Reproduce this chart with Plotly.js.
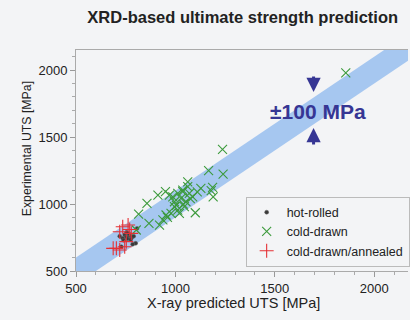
<!DOCTYPE html>
<html>
<head>
<meta charset="utf-8">
<script src="https://cdn.plot.ly/plotly-3.0.1.min.js"></script>
<style>html,body{margin:0;padding:0;background:#f3f4f6;}#chart{width:410px;height:320px;}</style>
</head>
<body>
<div id="chart"></div>
<script>
// ---- data (MPa) ----
const hotRolledX = [720, 735, 745, 753, 760, 770, 780, 790, 800, 807, 728, 740, 765, 775, 755, 785];
const hotRolledY = [760, 745, 770, 756, 740, 765, 750, 760, 707, 818, 681, 730, 780, 735, 790, 700];

const coldDrawnX = [1857, 1237, 1167, 1240, 1187, 1190, 1180, 1062, 1128, 1037, 970, 912, 950, 857, 815, 867, 920, 937, 978, 1012, 995, 1028, 1053, 1070, 1087, 1100, 1045, 1020, 1037, 1012, 987, 953, 803, 995, 1062, 1040, 1075, 1005, 960, 1110];
const coldDrawnY = [1980, 1408, 1249, 1224, 1125, 1054, 1100, 1166, 1117, 1092, 1067, 1067, 1092, 1005, 925, 856, 843, 881, 930, 955, 1017, 1042, 1017, 1080, 1054, 935, 980, 930, 1104, 1080, 1054, 918, 806, 980, 1130, 1000, 1040, 990, 900, 1090];

const annealedX = [762, 720, 703, 745, 720, 778, 687, 753, 735, 770];
const annealedY = [843, 793, 669, 681, 657, 781, 669, 719, 830, 810];

const bandHalfWidth = 100;          // ±100 MPa
const bandSpan = [400, 2300];       // x extent of the band line y = x

const xTickVals = [500, 1000, 1500, 2000];
const yTickVals = [500, 1000, 1500, 2000];

// ---- band polygon built from y = x ± bandHalfWidth ----
const bandX = [bandSpan[0], bandSpan[1], bandSpan[1], bandSpan[0]];
const bandY = [bandSpan[0] - bandHalfWidth, bandSpan[1] - bandHalfWidth,
               bandSpan[1] + bandHalfWidth, bandSpan[0] + bandHalfWidth];

const font = 'Liberation Sans, Arial, sans-serif';

const traces = [
  {x: bandX, y: bandY, type: 'scatter', mode: 'lines', fill: 'toself',
   fillcolor: '#a6c7f0', line: {width: 0}, hoverinfo: 'skip', showlegend: false},
  {x: hotRolledX, y: hotRolledY, type: 'scatter', mode: 'markers', name: 'hot-rolled',
   marker: {symbol: 'circle', size: 4, color: '#3a3a3a', line: {width: 0.5, color: '#666'}}},
  {x: coldDrawnX, y: coldDrawnY, type: 'scatter', mode: 'markers', name: 'cold-drawn',
   marker: {symbol: 'x-thin-open', size: 9, color: '#3c9a3c', line: {width: 1.1, color: '#3c9a3c'}}},
  {x: annealedX, y: annealedY, type: 'scatter', mode: 'markers', name: 'cold-drawn/annealed',
   marker: {symbol: 'cross-thin-open', size: 10, color: '#e53035', line: {width: 1.1, color: '#e53035'}}}
];

const arrowColor = '#363694';
const layout = {
  width: 410, height: 320,
  margin: {l: 76, r: 0, t: 50, b: 49},
  paper_bgcolor: '#f3f4f6', plot_bgcolor: '#f3f4f6',
  font: {family: font, size: 13, color: '#222'},
  title: {text: '<b>XRD-based ultimate strength prediction</b>', font: {family: font, size: 16.5, color: '#222'},
          x: 0.592, xanchor: 'center', y: 0.947, yanchor: 'middle'},
  xaxis: {range: [500, 2170], tickvals: xTickVals, ticks: 'outside', ticklen: 5, tickcolor: '#999',
          showline: true, linecolor: '#aaa', linewidth: 1, mirror: true, showgrid: false, zeroline: false,
          minor: {dtick: 100, ticks: 'outside', ticklen: 3, tickcolor: '#aaa'},
          tickfont: {size: 13, color: '#222'}},
  yaxis: {range: [500, 2150], tickvals: yTickVals, ticks: 'outside', ticklen: 5, tickcolor: '#999',
          showline: true, linecolor: '#aaa', linewidth: 1, showgrid: false, zeroline: false,
          minor: {dtick: 100, ticks: 'outside', ticklen: 3, tickcolor: '#aaa'},
          tickfont: {size: 13, color: '#222'}},
  legend: {x: 1.005, xanchor: 'right', y: 0.02, yanchor: 'bottom', bgcolor: 'rgba(0,0,0,0)',
           bordercolor: '#bbb', borderwidth: 1, font: {size: 12.5, color: '#222'},
           itemwidth: 30, tracegroupgap: 0},
  annotations: [
    {xref: 'paper', yref: 'paper', x: 0.473, y: -0.19, text: 'X-ray predicted UTS [MPa]',
     showarrow: false, font: {family: font, size: 14.5, color: '#222'}},
    {xref: 'paper', yref: 'paper', x: -0.174, y: 0.552, text: 'Experimental UTS [MPa]', textangle: -90,
     showarrow: false, font: {family: font, size: 12.3, color: '#222'}},
    {x: 1715, y: 1689, text: '<b>±100 MPa</b>', showarrow: false,
     font: {family: font, size: 21, color: arrowColor}},
    {x: 1695, y: 1836, ax: 0, ay: -17, text: '', showarrow: true, arrowhead: 2, arrowsize: 0.95,
     arrowwidth: 3, arrowcolor: arrowColor, standoff: 0},
    {x: 1695, y: 1567, ax: 0, ay: 18, text: '', showarrow: true, arrowhead: 2, arrowsize: 0.95,
     arrowwidth: 3, arrowcolor: arrowColor, standoff: 0}
  ]
};

Plotly.newPlot('chart', traces, layout, {displayModeBar: false, staticPlot: true});
</script>
</body>
</html>
